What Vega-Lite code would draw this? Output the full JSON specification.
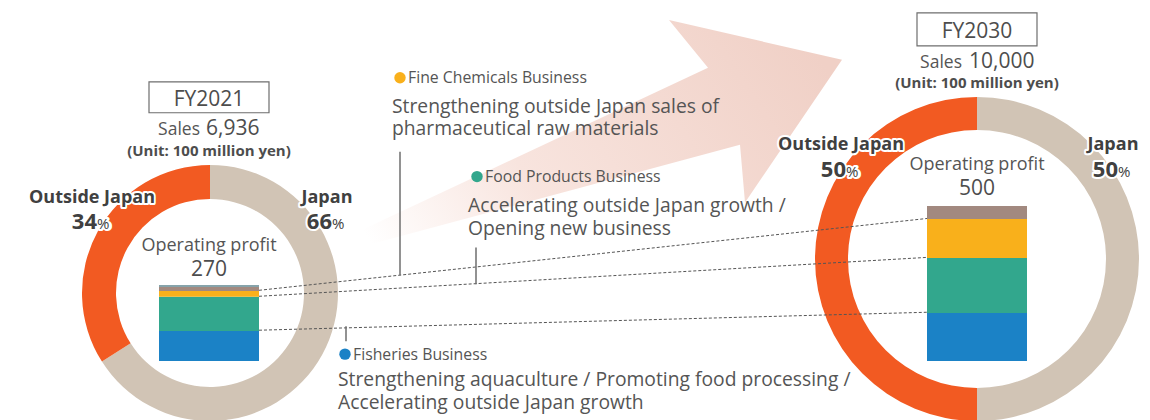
{
  "$schema": "https://vega.github.io/schema/vega-lite/v6.json",
  "width": 1150,
  "height": 420,
  "autosize": {"type": "fit", "contains": "padding"},
  "padding": 0,
  "background": "white",
  "config": {"view": {"stroke": null}, "font": "Open Sans"},
  "datasets": {
    "arrow": [
      {"i": 1, "px": 318, "py": 251},
      {"i": 2, "px": 708, "py": 68},
      {"i": 3, "px": 669, "py": 20},
      {"i": 4, "px": 842, "py": 60},
      {"i": 5, "px": 745, "py": 203},
      {"i": 6, "px": 740, "py": 145},
      {"i": 7, "px": 318, "py": 259}
    ],
    "share": [
      {"year": "FY2021", "region": "Japan", "share": 66, "k": 1},
      {"year": "FY2021", "region": "Outside Japan", "share": 34, "k": 2},
      {"year": "FY2030", "region": "Japan", "share": 50, "k": 1},
      {"year": "FY2030", "region": "Outside Japan", "share": 50, "k": 2}
    ],
    "profit": [
      {"year": "FY2021", "segment": "Fisheries", "op": 107, "k": 1},
      {"year": "FY2021", "segment": "Food Products", "op": 121, "k": 2},
      {"year": "FY2021", "segment": "Fine Chemicals", "op": 21, "k": 3},
      {"year": "FY2021", "segment": "Logistics", "op": 14, "k": 4},
      {"year": "FY2021", "segment": "Other", "op": 7, "k": 5},
      {"year": "FY2030", "segment": "Fisheries", "op": 155, "k": 1},
      {"year": "FY2030", "segment": "Food Products", "op": 177, "k": 2},
      {"year": "FY2030", "segment": "Fine Chemicals", "op": 126, "k": 3},
      {"year": "FY2030", "segment": "Logistics", "op": 42, "k": 4}
    ],
    "links": [
      {"kind": "dot", "px": 259, "py": 291, "px2": 927, "py2": 219},
      {"kind": "dot", "px": 259, "py": 297, "px2": 927, "py2": 258},
      {"kind": "dot", "px": 259, "py": 331, "px2": 927, "py2": 313},
      {"kind": "tick", "px": 400, "py": 152, "px2": 400, "py2": 276},
      {"kind": "tick", "px": 476, "py": 248, "px2": 476, "py2": 285},
      {"kind": "tick", "px": 346, "py": 327, "px2": 346, "py2": 342}
    ],
    "boxes": [
      {"year": "FY2021", "px": 149, "py": 82, "px2": 269, "py2": 113},
      {"year": "FY2030", "px": 917, "py": 13, "px2": 1037, "py2": 46}
    ],
    "dots": [
      {"segment": "Fine Chemicals", "px": 400, "py": 78},
      {"segment": "Food Products", "px": 477, "py": 177},
      {"segment": "Fisheries", "px": 345, "py": 355}
    ],
    "labels": [
      {"role": "fy", "text": "FY2021", "px": 209, "py": 106},
      {"role": "fy", "text": "FY2030", "px": 977, "py": 38},
      {"role": "sales", "text": "Sales", "px": 200, "py": 135},
      {"role": "sales", "text": "Sales", "px": 962, "py": 68},
      {"role": "salesnum", "text": "6,936", "px": 206, "py": 135},
      {"role": "salesnum", "text": "10,000", "px": 969, "py": 68},
      {"role": "unit", "text": "(Unit: 100 million yen)", "px": 209, "py": 156},
      {"role": "unit", "text": "(Unit: 100 million yen)", "px": 977, "py": 88},
      {"role": "region", "text": "Outside Japan", "px": 92, "py": 203},
      {"role": "region", "text": "Japan", "px": 327, "py": 203},
      {"role": "region", "text": "Outside Japan", "px": 841, "py": 150},
      {"role": "region", "text": "Japan", "px": 1113, "py": 150},
      {"role": "pct", "text": "34", "px": 97, "py": 230},
      {"role": "pct", "text": "66", "px": 332, "py": 230},
      {"role": "pct", "text": "50", "px": 846, "py": 177},
      {"role": "pct", "text": "50", "px": 1118, "py": 177},
      {"role": "pctsign", "text": "%", "px": 97, "py": 230},
      {"role": "pctsign", "text": "%", "px": 332, "py": 230},
      {"role": "pctsign", "text": "%", "px": 846, "py": 177},
      {"role": "pctsign", "text": "%", "px": 1118, "py": 177},
      {"role": "op", "text": "Operating profit", "px": 209, "py": 252},
      {"role": "op", "text": "Operating profit", "px": 977, "py": 170},
      {"role": "opnum", "text": "270", "px": 209, "py": 277},
      {"role": "opnum", "text": "500", "px": 977, "py": 195},
      {"role": "biz", "text": "Fine Chemicals Business", "px": 408, "py": 83},
      {"role": "biz", "text": "Food Products Business", "px": 485, "py": 182},
      {"role": "biz", "text": "Fisheries Business", "px": 353, "py": 361},
      {"role": "desc", "text": ["Strengthening outside Japan sales of", "pharmaceutical raw materials"], "px": 392, "py": 113},
      {"role": "desc", "text": ["Accelerating outside Japan growth /", "Opening new business"], "px": 468, "py": 213},
      {"role": "desc", "text": ["Strengthening aquaculture / Promoting food processing /", "Accelerating outside Japan growth"], "px": 338, "py": 387}
    ]
  },
  "layer": [
    {
      "data": {"name": "arrow"},
      "mark": {"type": "line", "interpolate": "linear-closed", "strokeWidth": 0,
        "fill": {"gradient": "linear", "x1": 0, "y1": 0.6, "x2": 1, "y2": 0.3,
          "stops": [{"offset": 0, "color": "#FFFFFF"}, {"offset": 0.35, "color": "#F8E4DE"}, {"offset": 1, "color": "#F0D0C6"}]}},
      "encoding": {
        "x": {"field": "px", "type": "quantitative", "scale": {"domain": [0, 1150], "nice": false, "zero": false}, "axis": null},
        "y": {"field": "py", "type": "quantitative", "scale": {"domain": [0, 420], "nice": false, "zero": false, "reverse": true}, "axis": null},
        "order": {"field": "i", "type": "quantitative"}
      }
    },
    {
      "data": {"name": "share"},
      "transform": [{"filter": "datum.year === 'FY2021'"}],
      "mark": {"type": "arc", "outerRadius": 128, "innerRadius": 94},
      "encoding": {
        "x": {"field": "year", "type": "nominal", "scale": {"type": "point", "domain": ["FY2021", "FY2030"], "range": [210, 977], "padding": 0}, "axis": null},
        "y": {"field": "year", "type": "nominal", "scale": {"type": "point", "domain": ["FY2021", "FY2030"], "range": [293, 259], "padding": 0}, "axis": null},
        "theta": {"field": "share", "type": "quantitative", "stack": true, "scale": {"domain": [0, 100]}},
        "order": {"field": "k", "type": "quantitative"},
        "color": {"field": "region", "type": "nominal", "scale": {"domain": ["Japan", "Outside Japan"], "range": ["#D1C4B5", "#F25A22"]}, "legend": null}
      }
    },
    {
      "data": {"name": "share"},
      "transform": [{"filter": "datum.year === 'FY2030'"}],
      "mark": {"type": "arc", "outerRadius": 162, "innerRadius": 129},
      "encoding": {
        "x": {"field": "year", "type": "nominal", "scale": {"type": "point", "domain": ["FY2021", "FY2030"], "range": [210, 977], "padding": 0}, "axis": null},
        "y": {"field": "year", "type": "nominal", "scale": {"type": "point", "domain": ["FY2021", "FY2030"], "range": [293, 259], "padding": 0}, "axis": null},
        "theta": {"field": "share", "type": "quantitative", "stack": true, "scale": {"domain": [0, 100]}},
        "order": {"field": "k", "type": "quantitative"},
        "color": {"field": "region", "type": "nominal", "scale": {"domain": ["Japan", "Outside Japan"], "range": ["#D1C4B5", "#F25A22"]}, "legend": null}
      }
    },
    {
      "data": {"name": "profit"},
      "transform": [{"filter": "datum.year === 'FY2021'"}],
      "mark": {"type": "bar", "size": 100},
      "encoding": {
        "x": {"field": "year", "type": "nominal", "scale": {"type": "point", "domain": ["FY2021", "FY2030"], "range": [209, 977], "padding": 0}, "axis": null},
        "y": {"field": "op", "type": "quantitative", "stack": true, "scale": {"domain": [0, 270], "range": [361, 285], "nice": false}, "axis": null},
        "order": {"field": "k", "type": "quantitative"},
        "color": {"field": "segment", "type": "nominal", "scale": {"domain": ["Fisheries", "Food Products", "Fine Chemicals", "Logistics", "Other"], "range": ["#1B82C6", "#32A78D", "#F9B01B", "#A2897F", "#86A3AA"]}, "legend": null}
      }
    },
    {
      "data": {"name": "profit"},
      "transform": [{"filter": "datum.year === 'FY2030'"}],
      "mark": {"type": "bar", "size": 100},
      "encoding": {
        "x": {"field": "year", "type": "nominal", "scale": {"type": "point", "domain": ["FY2021", "FY2030"], "range": [209, 977], "padding": 0}, "axis": null},
        "y": {"field": "op", "type": "quantitative", "stack": true, "scale": {"domain": [0, 500], "range": [361, 206], "nice": false}, "axis": null},
        "order": {"field": "k", "type": "quantitative"},
        "color": {"field": "segment", "type": "nominal", "scale": {"domain": ["Fisheries", "Food Products", "Fine Chemicals", "Logistics", "Other"], "range": ["#1B82C6", "#32A78D", "#F9B01B", "#A2897F", "#86A3AA"]}, "legend": null}
      }
    },
    {
      "data": {"name": "links"},
      "transform": [{"filter": "datum.kind === 'dot'"}],
      "mark": {"type": "rule", "color": "#555555", "strokeWidth": 1, "strokeDash": [3, 2]},
      "encoding": {
        "x": {"field": "px", "type": "quantitative", "scale": {"domain": [0, 1150], "nice": false, "zero": false}, "axis": null},
        "y": {"field": "py", "type": "quantitative", "scale": {"domain": [0, 420], "nice": false, "zero": false, "reverse": true}, "axis": null},
        "x2": {"field": "px2"},
        "y2": {"field": "py2"}
      }
    },
    {
      "data": {"name": "links"},
      "transform": [{"filter": "datum.kind === 'tick'"}],
      "mark": {"type": "rule", "color": "#6E6E6E", "strokeWidth": 1.5},
      "encoding": {
        "x": {"field": "px", "type": "quantitative", "scale": {"domain": [0, 1150], "nice": false, "zero": false}, "axis": null},
        "y": {"field": "py", "type": "quantitative", "scale": {"domain": [0, 420], "nice": false, "zero": false, "reverse": true}, "axis": null},
        "x2": {"field": "px2"},
        "y2": {"field": "py2"}
      }
    },
    {
      "data": {"name": "boxes"},
      "mark": {"type": "rect", "fill": "white", "stroke": "#6E6E6E", "strokeWidth": 1.2},
      "encoding": {
        "x": {"field": "px", "type": "quantitative", "scale": {"domain": [0, 1150], "nice": false, "zero": false}, "axis": null},
        "y": {"field": "py", "type": "quantitative", "scale": {"domain": [0, 420], "nice": false, "zero": false, "reverse": true}, "axis": null},
        "x2": {"field": "px2"},
        "y2": {"field": "py2"}
      }
    },
    {
      "data": {"name": "dots"},
      "mark": {"type": "point", "filled": true, "opacity": 1, "size": 130, "shape": "circle"},
      "encoding": {
        "x": {"field": "px", "type": "quantitative", "scale": {"domain": [0, 1150], "nice": false, "zero": false}, "axis": null},
        "y": {"field": "py", "type": "quantitative", "scale": {"domain": [0, 420], "nice": false, "zero": false, "reverse": true}, "axis": null},
        "color": {"field": "segment", "type": "nominal", "scale": {"domain": ["Fisheries", "Food Products", "Fine Chemicals", "Logistics", "Other"], "range": ["#1B82C6", "#32A78D", "#F9B01B", "#A2897F", "#86A3AA"]}, "legend": null}
      }
    },
    {
      "data": {"name": "labels"},
      "transform": [{"filter": "datum.role === 'fy'"}],
      "mark": {"type": "text", "fontSize": 21, "color": "#4D4D4D", "align": "center", "baseline": "alphabetic"},
      "encoding": {
        "x": {"field": "px", "type": "quantitative", "scale": {"domain": [0, 1150], "nice": false, "zero": false}, "axis": null},
        "y": {"field": "py", "type": "quantitative", "scale": {"domain": [0, 420], "nice": false, "zero": false, "reverse": true}, "axis": null},
        "text": {"field": "text"}
      }
    },
    {
      "data": {"name": "labels"},
      "transform": [{"filter": "datum.role === 'sales'"}],
      "mark": {"type": "text", "fontSize": 17.5, "color": "#555555", "align": "right", "baseline": "alphabetic"},
      "encoding": {
        "x": {"field": "px", "type": "quantitative", "scale": {"domain": [0, 1150], "nice": false, "zero": false}, "axis": null},
        "y": {"field": "py", "type": "quantitative", "scale": {"domain": [0, 420], "nice": false, "zero": false, "reverse": true}, "axis": null},
        "text": {"field": "text"}
      }
    },
    {
      "data": {"name": "labels"},
      "transform": [{"filter": "datum.role === 'salesnum'"}],
      "mark": {"type": "text", "fontSize": 21, "color": "#4D4D4D", "align": "left", "baseline": "alphabetic"},
      "encoding": {
        "x": {"field": "px", "type": "quantitative", "scale": {"domain": [0, 1150], "nice": false, "zero": false}, "axis": null},
        "y": {"field": "py", "type": "quantitative", "scale": {"domain": [0, 420], "nice": false, "zero": false, "reverse": true}, "axis": null},
        "text": {"field": "text"}
      }
    },
    {
      "data": {"name": "labels"},
      "transform": [{"filter": "datum.role === 'unit'"}],
      "mark": {"type": "text", "fontSize": 15, "fontWeight": "bold", "color": "#4D4D4D", "align": "center", "baseline": "alphabetic"},
      "encoding": {
        "x": {"field": "px", "type": "quantitative", "scale": {"domain": [0, 1150], "nice": false, "zero": false}, "axis": null},
        "y": {"field": "py", "type": "quantitative", "scale": {"domain": [0, 420], "nice": false, "zero": false, "reverse": true}, "axis": null},
        "text": {"field": "text"}
      }
    },
    {
      "data": {"name": "labels"},
      "transform": [{"filter": "datum.role === 'region'"}],
      "mark": {"type": "text", "fontSize": 18, "fontWeight": "bold", "color": "white", "stroke": "white", "strokeWidth": 4, "strokeJoin": "round", "align": "center", "baseline": "alphabetic"},
      "encoding": {
        "x": {"field": "px", "type": "quantitative", "scale": {"domain": [0, 1150], "nice": false, "zero": false}, "axis": null},
        "y": {"field": "py", "type": "quantitative", "scale": {"domain": [0, 420], "nice": false, "zero": false, "reverse": true}, "axis": null},
        "text": {"field": "text"}
      }
    },
    {
      "data": {"name": "labels"},
      "transform": [{"filter": "datum.role === 'region'"}],
      "mark": {"type": "text", "fontSize": 18, "fontWeight": "bold", "color": "#404040", "align": "center", "baseline": "alphabetic"},
      "encoding": {
        "x": {"field": "px", "type": "quantitative", "scale": {"domain": [0, 1150], "nice": false, "zero": false}, "axis": null},
        "y": {"field": "py", "type": "quantitative", "scale": {"domain": [0, 420], "nice": false, "zero": false, "reverse": true}, "axis": null},
        "text": {"field": "text"}
      }
    },
    {
      "data": {"name": "labels"},
      "transform": [{"filter": "datum.role === 'pct'"}],
      "mark": {"type": "text", "fontSize": 22, "fontWeight": "bold", "color": "white", "stroke": "white", "strokeWidth": 4, "strokeJoin": "round", "align": "right", "baseline": "alphabetic"},
      "encoding": {
        "x": {"field": "px", "type": "quantitative", "scale": {"domain": [0, 1150], "nice": false, "zero": false}, "axis": null},
        "y": {"field": "py", "type": "quantitative", "scale": {"domain": [0, 420], "nice": false, "zero": false, "reverse": true}, "axis": null},
        "text": {"field": "text"}
      }
    },
    {
      "data": {"name": "labels"},
      "transform": [{"filter": "datum.role === 'pctsign'"}],
      "mark": {"type": "text", "fontSize": 15, "fontWeight": "bold", "color": "white", "stroke": "white", "strokeWidth": 4, "strokeJoin": "round", "align": "left", "baseline": "alphabetic"},
      "encoding": {
        "x": {"field": "px", "type": "quantitative", "scale": {"domain": [0, 1150], "nice": false, "zero": false}, "axis": null},
        "y": {"field": "py", "type": "quantitative", "scale": {"domain": [0, 420], "nice": false, "zero": false, "reverse": true}, "axis": null},
        "text": {"field": "text"}
      }
    },
    {
      "data": {"name": "labels"},
      "transform": [{"filter": "datum.role === 'pct'"}],
      "mark": {"type": "text", "fontSize": 22, "fontWeight": "bold", "color": "#404040", "align": "right", "baseline": "alphabetic"},
      "encoding": {
        "x": {"field": "px", "type": "quantitative", "scale": {"domain": [0, 1150], "nice": false, "zero": false}, "axis": null},
        "y": {"field": "py", "type": "quantitative", "scale": {"domain": [0, 420], "nice": false, "zero": false, "reverse": true}, "axis": null},
        "text": {"field": "text"}
      }
    },
    {
      "data": {"name": "labels"},
      "transform": [{"filter": "datum.role === 'pctsign'"}],
      "mark": {"type": "text", "fontSize": 15, "fontWeight": "normal", "color": "#404040", "align": "left", "baseline": "alphabetic"},
      "encoding": {
        "x": {"field": "px", "type": "quantitative", "scale": {"domain": [0, 1150], "nice": false, "zero": false}, "axis": null},
        "y": {"field": "py", "type": "quantitative", "scale": {"domain": [0, 420], "nice": false, "zero": false, "reverse": true}, "axis": null},
        "text": {"field": "text"}
      }
    },
    {
      "data": {"name": "labels"},
      "transform": [{"filter": "datum.role === 'op'"}],
      "mark": {"type": "text", "fontSize": 18, "color": "#555555", "align": "center", "baseline": "alphabetic"},
      "encoding": {
        "x": {"field": "px", "type": "quantitative", "scale": {"domain": [0, 1150], "nice": false, "zero": false}, "axis": null},
        "y": {"field": "py", "type": "quantitative", "scale": {"domain": [0, 420], "nice": false, "zero": false, "reverse": true}, "axis": null},
        "text": {"field": "text"}
      }
    },
    {
      "data": {"name": "labels"},
      "transform": [{"filter": "datum.role === 'opnum'"}],
      "mark": {"type": "text", "fontSize": 21, "color": "#4D4D4D", "align": "center", "baseline": "alphabetic"},
      "encoding": {
        "x": {"field": "px", "type": "quantitative", "scale": {"domain": [0, 1150], "nice": false, "zero": false}, "axis": null},
        "y": {"field": "py", "type": "quantitative", "scale": {"domain": [0, 420], "nice": false, "zero": false, "reverse": true}, "axis": null},
        "text": {"field": "text"}
      }
    },
    {
      "data": {"name": "labels"},
      "transform": [{"filter": "datum.role === 'biz'"}],
      "mark": {"type": "text", "fontSize": 15.8, "color": "#555555", "align": "left", "baseline": "alphabetic"},
      "encoding": {
        "x": {"field": "px", "type": "quantitative", "scale": {"domain": [0, 1150], "nice": false, "zero": false}, "axis": null},
        "y": {"field": "py", "type": "quantitative", "scale": {"domain": [0, 420], "nice": false, "zero": false, "reverse": true}, "axis": null},
        "text": {"field": "text"}
      }
    },
    {
      "data": {"name": "labels"},
      "transform": [{"filter": "datum.role === 'desc'"}],
      "mark": {"type": "text", "fontSize": 19.3, "lineHeight": 22.5, "color": "#555555", "align": "left", "baseline": "alphabetic"},
      "encoding": {
        "x": {"field": "px", "type": "quantitative", "scale": {"domain": [0, 1150], "nice": false, "zero": false}, "axis": null},
        "y": {"field": "py", "type": "quantitative", "scale": {"domain": [0, 420], "nice": false, "zero": false, "reverse": true}, "axis": null},
        "text": {"field": "text"}
      }
    }
  ],
  "resolve": {"scale": {"x": "independent", "y": "independent", "color": "independent", "theta": "independent"}}
}
